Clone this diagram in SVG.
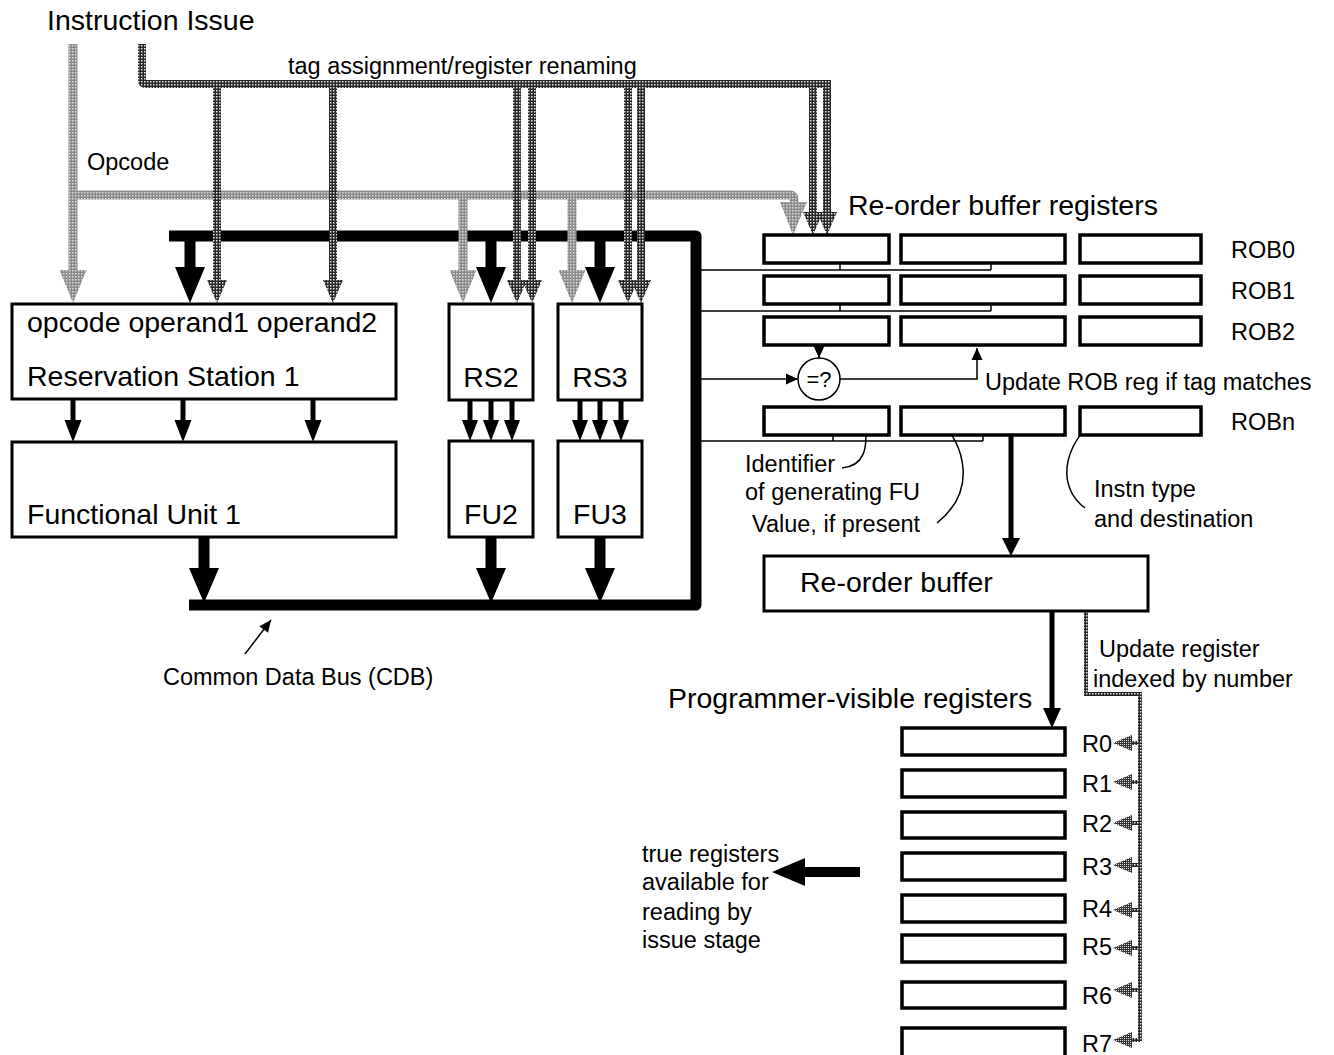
<svg xmlns="http://www.w3.org/2000/svg" width="1334" height="1055" viewBox="0 0 1334 1055">
<defs>
<pattern id="pOp" width="3" height="3" patternUnits="userSpaceOnUse"><rect width="3" height="3" fill="#8a8a8a"/><rect width="1.5" height="1.5" fill="#dcdcdc"/></pattern>
<pattern id="pTag" width="3" height="3" patternUnits="userSpaceOnUse"><rect width="3" height="3" fill="#262626"/><rect width="1.5" height="1.5" fill="#e6e6e6"/></pattern>
<pattern id="pArr" width="2" height="2" patternUnits="userSpaceOnUse"><rect width="2" height="2" fill="#333"/><rect width="1" height="1" fill="#ddd"/></pattern>
<marker id="ah" viewBox="0 0 12 12" refX="12" refY="6" markerWidth="13" markerHeight="12" markerUnits="userSpaceOnUse" orient="auto"><path d="M0,0.5 L12,6 L0,11.5 z" fill="#000"/></marker>
</defs>
<style>
.box{fill:#fff;stroke:#000;stroke-width:3}
.rob{fill:#fff;stroke:#000;stroke-width:3.5}
.big{font-family:"Liberation Sans",Arial,sans-serif;font-size:28.5px;fill:#000}
.sm{font-family:"Liberation Sans",Arial,sans-serif;font-size:23.5px;fill:#000}
.mid{text-anchor:middle}
.op{fill:none;stroke:url(#pOp);stroke-width:9}
.tag{fill:none;stroke:url(#pTag);stroke-width:8}
.tagthin{fill:none;stroke:url(#pTag);stroke-width:4}
.opH{fill:url(#pOp)}
.tagH{fill:url(#pTag)}
.rH{fill:url(#pArr)}
.thin{fill:none;stroke:#000;stroke-width:1.5}
.arr{fill:none;stroke:#000;stroke-width:1.5;marker-end:url(#ah)}
.bus{fill:none;stroke:#000;stroke-width:11;stroke-linejoin:round}
.shaft{fill:none;stroke:#000}
.blk{fill:#000}
</style>

<!-- labels not belonging to nodes -->
<text class="big" x="47" y="30">Instruction Issue</text>
<text class="sm" x="288" y="74">tag assignment/register renaming</text>
<text class="sm" x="87" y="170">Opcode</text>
<text class="big" x="848" y="215">Re-order buffer registers</text>
<text class="sm" x="163" y="685">Common Data Bus (CDB)</text>
<text class="big" x="668" y="708">Programmer-visible registers</text>

<g id="connectors">
  <!-- Common data bus -->
  <path class="bus" d="M169,236 H696 V605 H189"/>
  <!-- CDB to reservation stations -->
  <path class="shaft" stroke-width="11" d="M190,236 V268 M491,236 V268 M600,236 V268"/>
  <polygon class="blk" points="175,267 205,267 190,303"/>
  <polygon class="blk" points="476,267 506,267 491,303"/>
  <polygon class="blk" points="585,267 615,267 600,303"/>
  <!-- FU to CDB -->
  <path class="shaft" stroke-width="11" d="M204,537 V569 M491,537 V569 M600,537 V569"/>
  <polygon class="blk" points="189,568 219,568 204,603"/>
  <polygon class="blk" points="476,568 506,568 491,603"/>
  <polygon class="blk" points="585,568 615,568 600,603"/>
  <!-- RS to FU -->
  <path class="shaft" stroke-width="5" d="M73,400 V421 M183,400 V421 M313,400 V421 M470,400 V421 M491,400 V421 M512,400 V421 M580,400 V421 M600,400 V421 M621,400 V421"/>
  <polygon class="blk" points="64.5,420 81.5,420 73,442"/>
  <polygon class="blk" points="174.5,420 191.5,420 183,442"/>
  <polygon class="blk" points="304.5,420 321.5,420 313,442"/>
  <polygon class="blk" points="462,420 478,420 470,441"/>
  <polygon class="blk" points="483,420 499,420 491,441"/>
  <polygon class="blk" points="504,420 520,420 512,441"/>
  <polygon class="blk" points="572,420 588,420 580,441"/>
  <polygon class="blk" points="592,420 608,420 600,441"/>
  <polygon class="blk" points="613,420 629,420 621,441"/>

  <!-- Opcode paths -->
  <path class="op" d="M73,44 V271"/>
  <path class="op" d="M73,195 H790 Q794,195 794,199 V203"/>
  <path class="op" d="M463,195 V271 M572,195 V271"/>
  <polygon class="opH" points="59.5,270 86.5,270 73,303"/>
  <polygon class="opH" points="449.5,270 476.5,270 463,303"/>
  <polygon class="opH" points="558.5,270 585.5,270 572,303"/>
  <polygon class="opH" points="780,202 807,202 793,235"/>

  <!-- Tag assignment paths -->
  <path class="tag" d="M142,44 V80 Q142,84 146,84 H827 V213"/>
  <path class="tag" d="M217,84 V281 M333,84 V281 M517,84 V281 M532,84 V281 M628,84 V281 M641,84 V281 M813,84 V213"/>
  <polygon class="tagH" points="207,280 227,280 217,303"/>
  <polygon class="tagH" points="323,280 343,280 333,303"/>
  <polygon class="tagH" points="507,280 527,280 517,303"/>
  <polygon class="tagH" points="522,280 542,280 532,303"/>
  <polygon class="tagH" points="618,280 638,280 628,303"/>
  <polygon class="tagH" points="631,280 651,280 641,303"/>
  <polygon class="tagH" points="803,212 823,212 813,235"/>
  <polygon class="tagH" points="817,212 837,212 827,235"/>

  <!-- CDB taps to ROB -->
  <path class="thin" d="M701,270 H991 M840,263 V270 M991,263 V270"/>
  <path class="thin" d="M701,311 H991 M840,304 V311 M991,304 V311"/>
  <path class="thin" d="M701,441 H983 M833,435 V441 M983,435 V441"/>
  <path class="arr" d="M701,379 H798"/>
  <path class="arr" d="M819,347 V358"/>
  <path class="arr" d="M840,379 H977 V348"/>

  <!-- annotation curves -->
  <path class="arr" d="M842,468 C862,466 870,452 864,417"/>
  <path class="arr" d="M937,523 C978,490 965,445 938,418"/>
  <path class="arr" d="M1085,508 C1058,488 1060,448 1098,417"/>
  <path class="arr" d="M245,654 L271,620"/>

  <!-- ROB to re-order buffer -->
  <path class="shaft" stroke-width="5" d="M1011,428 V540"/>
  <polygon class="blk" points="1002,538 1020,538 1011,556"/>
  <!-- re-order buffer to registers -->
  <path class="shaft" stroke-width="5" d="M1052,611 V710"/>
  <polygon class="blk" points="1043,708 1061,708 1052,728"/>
  <!-- update register indexed by number -->
  <path class="tagthin" d="M1086,611 V694 H1140 V1041"/>
  <path class="tagthin" d="M1128,743 H1140 M1128,782 H1140 M1128,823 H1140 M1128,865 H1140 M1128,910 H1140 M1128,948 H1140 M1128,990 H1140 M1128,1040 H1140"/>
  <g class="rH">
    <polygon points="1132,735 1132,751 1113,743"/>
    <polygon points="1132,774 1132,790 1113,782"/>
    <polygon points="1132,815 1132,831 1113,823"/>
    <polygon points="1132,857 1132,873 1113,865"/>
    <polygon points="1132,902 1132,918 1113,910"/>
    <polygon points="1132,940 1132,956 1113,948"/>
    <polygon points="1132,982 1132,998 1113,990"/>
    <polygon points="1132,1032 1132,1048 1113,1040"/>
  </g>
  <!-- true registers arrow -->
  <path class="shaft" stroke-width="10" d="M860,872 H803"/>
  <polygon class="blk" points="805,858 805,886 772,872"/>
</g>

<g id="rs1">
  <rect class="box" x="12" y="304" width="384" height="95"/>
  <text class="big" x="27" y="332">opcode operand1 operand2</text>
  <text class="big" x="27" y="386">Reservation Station 1</text>
</g>
<g id="fu1">
  <rect class="box" x="12" y="442" width="384" height="95"/>
  <text class="big" x="27" y="524">Functional Unit 1</text>
</g>
<g id="rs2">
  <rect class="box" x="449" y="304" width="84" height="96"/>
  <text class="big mid" x="491" y="387">RS2</text>
</g>
<g id="rs3">
  <rect class="box" x="558" y="304" width="84" height="96"/>
  <text class="big mid" x="600" y="387">RS3</text>
</g>
<g id="fu2">
  <rect class="box" x="449" y="441" width="84" height="96"/>
  <text class="big mid" x="491" y="524">FU2</text>
</g>
<g id="fu3">
  <rect class="box" x="558" y="441" width="84" height="96"/>
  <text class="big mid" x="600" y="524">FU3</text>
</g>

<g id="rob0">
  <rect class="rob" x="764" y="235" width="125" height="28"/>
  <rect class="rob" x="901" y="235" width="164" height="28"/>
  <rect class="rob" x="1080" y="235" width="121" height="28"/>
  <text class="sm" x="1231" y="258">ROB0</text>
</g>
<g id="rob1">
  <rect class="rob" x="764" y="276" width="125" height="28"/>
  <rect class="rob" x="901" y="276" width="164" height="28"/>
  <rect class="rob" x="1080" y="276" width="121" height="28"/>
  <text class="sm" x="1231" y="299">ROB1</text>
</g>
<g id="rob2">
  <rect class="rob" x="764" y="317" width="125" height="28"/>
  <rect class="rob" x="901" y="317" width="164" height="28"/>
  <rect class="rob" x="1080" y="317" width="121" height="28"/>
  <text class="sm" x="1231" y="340">ROB2</text>
</g>
<g id="robn">
  <rect class="rob" x="764" y="407" width="125" height="28"/>
  <rect class="rob" x="901" y="407" width="164" height="28"/>
  <rect class="rob" x="1080" y="407" width="121" height="28"/>
  <text class="sm" x="1231" y="430">ROBn</text>
</g>
<g id="compare">
  <circle cx="819" cy="379" r="21" fill="#fff" stroke="#000" stroke-width="1.5"/>
  <text class="sm mid" x="819" y="387" style="font-size:22px">=?</text>
  <text class="sm" x="985" y="390">Update ROB reg if tag matches</text>
</g>
<g id="annotations">
  <text class="sm" x="745" y="472">Identifier</text>
  <text class="sm" x="745" y="500">of generating FU</text>
  <text class="sm" x="752" y="532">Value, if present</text>
  <text class="sm" x="1094" y="497">Instn type</text>
  <text class="sm" x="1094" y="527">and destination</text>
  <text class="sm" x="1099" y="657">Update register</text>
  <text class="sm" x="1093" y="687">indexed by number</text>
</g>
<g id="reorder-buffer">
  <rect class="box" x="764" y="556" width="384" height="55"/>
  <text class="big" x="800" y="592">Re-order buffer</text>
</g>
<g id="registers">
  <rect class="rob" x="902" y="728" width="163" height="27"/>
  <text class="sm" x="1082" y="752">R0</text>
  <rect class="rob" x="902" y="770" width="163" height="27"/>
  <text class="sm" x="1082" y="792">R1</text>
  <rect class="rob" x="902" y="812" width="163" height="26"/>
  <text class="sm" x="1082" y="832">R2</text>
  <rect class="rob" x="902" y="853" width="163" height="27"/>
  <text class="sm" x="1082" y="875">R3</text>
  <rect class="rob" x="902" y="895" width="163" height="27"/>
  <text class="sm" x="1082" y="917">R4</text>
  <rect class="rob" x="902" y="935" width="163" height="27"/>
  <text class="sm" x="1082" y="955">R5</text>
  <rect class="rob" x="902" y="982" width="163" height="26"/>
  <text class="sm" x="1082" y="1004">R6</text>
  <rect class="rob" x="902" y="1028" width="163" height="30"/>
  <text class="sm" x="1082" y="1052">R7</text>
</g>
<g id="true-registers">
  <text class="sm" x="642" y="862">true registers</text>
  <text class="sm" x="642" y="890">available for</text>
  <text class="sm" x="642" y="920">reading by</text>
  <text class="sm" x="642" y="948">issue stage</text>
</g>
</svg>
